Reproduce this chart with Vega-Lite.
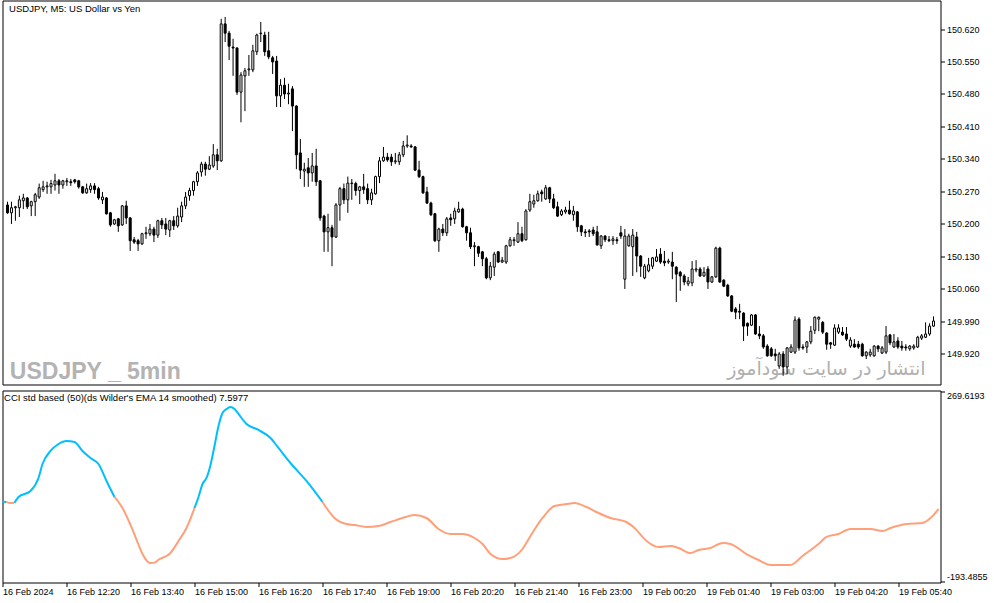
{
"$schema":"https://vega.github.io/schema/vega-lite/v6.json",
"padding":{"left":-2.5,"top":-0.5,"right":0,"bottom":0},
"spacing":4,
"background":"white",
"config":{"view":{"stroke":"black","strokeWidth":1},"axis":{"labelFont":"Liberation Sans","labelFontSize":9,"labelColor":"black","tickColor":"black","tickSize":4,"grid":false,"domain":false,"title":null,"labelOverlap":false}},
"datasets":{
"candles":[
{"k":0,"o":150.241,"h":150.248,"l":150.222,"c":150.224},
{"k":1,"o":150.224,"h":150.248,"l":150.200,"c":150.235},
{"k":2,"o":150.235,"h":150.239,"l":150.207,"c":150.237},
{"k":3,"o":150.235,"h":150.261,"l":150.215,"c":150.252},
{"k":4,"o":150.250,"h":150.265,"l":150.232,"c":150.256},
{"k":5,"o":150.256,"h":150.258,"l":150.232,"c":150.237},
{"k":6,"o":150.239,"h":150.250,"l":150.217,"c":150.248},
{"k":7,"o":150.248,"h":150.267,"l":150.217,"c":150.263},
{"k":8,"o":150.258,"h":150.287,"l":150.254,"c":150.278},
{"k":9,"o":150.274,"h":150.293,"l":150.269,"c":150.280},
{"k":10,"o":150.280,"h":150.291,"l":150.265,"c":150.282},
{"k":11,"o":150.280,"h":150.295,"l":150.265,"c":150.287},
{"k":12,"o":150.284,"h":150.308,"l":150.272,"c":150.293},
{"k":13,"o":150.293,"h":150.297,"l":150.265,"c":150.284},
{"k":14,"o":150.284,"h":150.295,"l":150.276,"c":150.293},
{"k":15,"o":150.291,"h":150.299,"l":150.282,"c":150.293},
{"k":16,"o":150.291,"h":150.297,"l":150.282,"c":150.289},
{"k":17,"o":150.295,"h":150.297,"l":150.287,"c":150.291},
{"k":18,"o":150.293,"h":150.295,"l":150.276,"c":150.280},
{"k":19,"o":150.280,"h":150.282,"l":150.265,"c":150.267},
{"k":20,"o":150.267,"h":150.287,"l":150.265,"c":150.276},
{"k":21,"o":150.274,"h":150.288,"l":150.267,"c":150.282},
{"k":22,"o":150.282,"h":150.288,"l":150.265,"c":150.274},
{"k":23,"o":150.276,"h":150.280,"l":150.252,"c":150.256},
{"k":24,"o":150.252,"h":150.269,"l":150.243,"c":150.258},
{"k":25,"o":150.256,"h":150.258,"l":150.220,"c":150.222},
{"k":26,"o":150.224,"h":150.226,"l":150.194,"c":150.198},
{"k":27,"o":150.200,"h":150.211,"l":150.198,"c":150.209},
{"k":28,"o":150.211,"h":150.213,"l":150.183,"c":150.196},
{"k":29,"o":150.198,"h":150.241,"l":150.196,"c":150.239},
{"k":30,"o":150.239,"h":150.250,"l":150.200,"c":150.213},
{"k":31,"o":150.213,"h":150.215,"l":150.142,"c":150.164},
{"k":32,"o":150.166,"h":150.172,"l":150.157,"c":150.161},
{"k":33,"o":150.164,"h":150.168,"l":150.142,"c":150.157},
{"k":34,"o":150.157,"h":150.181,"l":150.155,"c":150.179},
{"k":35,"o":150.179,"h":150.194,"l":150.168,"c":150.181},
{"k":36,"o":150.179,"h":150.200,"l":150.174,"c":150.189},
{"k":37,"o":150.189,"h":150.194,"l":150.161,"c":150.176},
{"k":38,"o":150.176,"h":150.209,"l":150.170,"c":150.207},
{"k":39,"o":150.207,"h":150.213,"l":150.189,"c":150.198},
{"k":40,"o":150.200,"h":150.213,"l":150.176,"c":150.189},
{"k":41,"o":150.187,"h":150.209,"l":150.172,"c":150.207},
{"k":42,"o":150.207,"h":150.217,"l":150.187,"c":150.196},
{"k":43,"o":150.196,"h":150.235,"l":150.192,"c":150.217},
{"k":44,"o":150.215,"h":150.248,"l":150.204,"c":150.239},
{"k":45,"o":150.239,"h":150.269,"l":150.232,"c":150.258},
{"k":46,"o":150.261,"h":150.278,"l":150.250,"c":150.272},
{"k":47,"o":150.272,"h":150.293,"l":150.261,"c":150.291},
{"k":48,"o":150.291,"h":150.314,"l":150.282,"c":150.310},
{"k":49,"o":150.312,"h":150.334,"l":150.302,"c":150.329},
{"k":50,"o":150.329,"h":150.334,"l":150.304,"c":150.318},
{"k":51,"o":150.318,"h":150.346,"l":150.316,"c":150.327},
{"k":52,"o":150.325,"h":150.372,"l":150.321,"c":150.349},
{"k":53,"o":150.349,"h":150.362,"l":150.316,"c":150.336},
{"k":54,"o":150.336,"h":150.642,"l":150.334,"c":150.631},
{"k":55,"o":150.631,"h":150.646,"l":150.592,"c":150.611},
{"k":56,"o":150.611,"h":150.616,"l":150.553,"c":150.583},
{"k":57,"o":150.581,"h":150.599,"l":150.519,"c":150.579},
{"k":58,"o":150.579,"h":150.581,"l":150.478,"c":150.484},
{"k":59,"o":150.484,"h":150.527,"l":150.419,"c":150.521},
{"k":60,"o":150.519,"h":150.536,"l":150.443,"c":150.530},
{"k":61,"o":150.532,"h":150.564,"l":150.519,"c":150.534},
{"k":62,"o":150.532,"h":150.586,"l":150.527,"c":150.573},
{"k":63,"o":150.571,"h":150.610,"l":150.564,"c":150.607},
{"k":64,"o":150.610,"h":150.635,"l":150.592,"c":150.611},
{"k":65,"o":150.607,"h":150.614,"l":150.562,"c":150.571},
{"k":66,"o":150.573,"h":150.614,"l":150.555,"c":150.560},
{"k":67,"o":150.558,"h":150.562,"l":150.523,"c":150.549},
{"k":68,"o":150.551,"h":150.562,"l":150.452,"c":150.476},
{"k":69,"o":150.476,"h":150.512,"l":150.452,"c":150.499},
{"k":70,"o":150.499,"h":150.515,"l":150.469,"c":150.480},
{"k":71,"o":150.480,"h":150.502,"l":150.458,"c":150.482},
{"k":72,"o":150.491,"h":150.497,"l":150.400,"c":150.454},
{"k":73,"o":150.454,"h":150.456,"l":150.318,"c":150.349},
{"k":74,"o":150.353,"h":150.383,"l":150.297,"c":150.316},
{"k":75,"o":150.314,"h":150.332,"l":150.280,"c":150.318},
{"k":76,"o":150.321,"h":150.342,"l":150.280,"c":150.310},
{"k":77,"o":150.310,"h":150.353,"l":150.291,"c":150.325},
{"k":78,"o":150.325,"h":150.362,"l":150.282,"c":150.291},
{"k":79,"o":150.293,"h":150.295,"l":150.207,"c":150.213},
{"k":80,"o":150.217,"h":150.220,"l":150.140,"c":150.183},
{"k":81,"o":150.183,"h":150.222,"l":150.140,"c":150.192},
{"k":82,"o":150.192,"h":150.198,"l":150.109,"c":150.172},
{"k":83,"o":150.172,"h":150.245,"l":150.170,"c":150.241},
{"k":84,"o":150.241,"h":150.280,"l":150.207,"c":150.276},
{"k":85,"o":150.276,"h":150.287,"l":150.243,"c":150.252},
{"k":86,"o":150.252,"h":150.302,"l":150.224,"c":150.288},
{"k":87,"o":150.287,"h":150.297,"l":150.252,"c":150.288},
{"k":88,"o":150.287,"h":150.291,"l":150.261,"c":150.272},
{"k":89,"o":150.272,"h":150.282,"l":150.243,"c":150.280},
{"k":90,"o":150.280,"h":150.308,"l":150.265,"c":150.274},
{"k":91,"o":150.276,"h":150.287,"l":150.243,"c":150.252},
{"k":92,"o":150.252,"h":150.276,"l":150.241,"c":150.267},
{"k":93,"o":150.265,"h":150.304,"l":150.263,"c":150.302},
{"k":94,"o":150.302,"h":150.344,"l":150.288,"c":150.336},
{"k":95,"o":150.336,"h":150.366,"l":150.334,"c":150.344},
{"k":96,"o":150.344,"h":150.353,"l":150.334,"c":150.338},
{"k":97,"o":150.344,"h":150.351,"l":150.325,"c":150.334},
{"k":98,"o":150.334,"h":150.353,"l":150.329,"c":150.336},
{"k":99,"o":150.334,"h":150.355,"l":150.327,"c":150.349},
{"k":100,"o":150.349,"h":150.379,"l":150.344,"c":150.368},
{"k":101,"o":150.368,"h":150.391,"l":150.364,"c":150.370},
{"k":102,"o":150.368,"h":150.372,"l":150.364,"c":150.366},
{"k":103,"o":150.366,"h":150.368,"l":150.314,"c":150.316},
{"k":104,"o":150.316,"h":150.336,"l":150.299,"c":150.302},
{"k":105,"o":150.302,"h":150.304,"l":150.265,"c":150.267},
{"k":106,"o":150.269,"h":150.280,"l":150.243,"c":150.245},
{"k":107,"o":150.245,"h":150.248,"l":150.217,"c":150.220},
{"k":108,"o":150.222,"h":150.224,"l":150.161,"c":150.164},
{"k":109,"o":150.164,"h":150.192,"l":150.140,"c":150.189},
{"k":110,"o":150.189,"h":150.200,"l":150.174,"c":150.181},
{"k":111,"o":150.181,"h":150.215,"l":150.174,"c":150.211},
{"k":112,"o":150.213,"h":150.222,"l":150.196,"c":150.209},
{"k":113,"o":150.211,"h":150.235,"l":150.200,"c":150.228},
{"k":114,"o":150.226,"h":150.248,"l":150.224,"c":150.232},
{"k":115,"o":150.232,"h":150.235,"l":150.192,"c":150.194},
{"k":116,"o":150.194,"h":150.196,"l":150.164,"c":150.181},
{"k":117,"o":150.181,"h":150.192,"l":150.146,"c":150.151},
{"k":118,"o":150.151,"h":150.161,"l":150.109,"c":150.153},
{"k":119,"o":150.151,"h":150.153,"l":150.129,"c":150.137},
{"k":120,"o":150.140,"h":150.142,"l":150.109,"c":150.125},
{"k":121,"o":150.125,"h":150.129,"l":150.081,"c":150.084},
{"k":122,"o":150.084,"h":150.118,"l":150.079,"c":150.109},
{"k":123,"o":150.107,"h":150.140,"l":150.088,"c":150.135},
{"k":124,"o":150.140,"h":150.142,"l":150.116,"c":150.118},
{"k":125,"o":150.118,"h":150.129,"l":150.116,"c":150.122},
{"k":126,"o":150.118,"h":150.155,"l":150.114,"c":150.153},
{"k":127,"o":150.153,"h":150.172,"l":150.151,"c":150.166},
{"k":128,"o":150.164,"h":150.172,"l":150.153,"c":150.166},
{"k":129,"o":150.161,"h":150.204,"l":150.159,"c":150.179},
{"k":130,"o":150.179,"h":150.194,"l":150.161,"c":150.164},
{"k":131,"o":150.166,"h":150.232,"l":150.164,"c":150.228},
{"k":132,"o":150.230,"h":150.265,"l":150.226,"c":150.248},
{"k":133,"o":150.243,"h":150.263,"l":150.235,"c":150.250},
{"k":134,"o":150.250,"h":150.272,"l":150.248,"c":150.265},
{"k":135,"o":150.269,"h":150.274,"l":150.248,"c":150.265},
{"k":136,"o":150.254,"h":150.284,"l":150.252,"c":150.278},
{"k":137,"o":150.278,"h":150.280,"l":150.245,"c":150.254},
{"k":138,"o":150.254,"h":150.265,"l":150.232,"c":150.235},
{"k":139,"o":150.237,"h":150.248,"l":150.215,"c":150.217},
{"k":140,"o":150.220,"h":150.232,"l":150.217,"c":150.228},
{"k":141,"o":150.226,"h":150.237,"l":150.222,"c":150.230},
{"k":142,"o":150.230,"h":150.250,"l":150.220,"c":150.222},
{"k":143,"o":150.220,"h":150.239,"l":150.207,"c":150.228},
{"k":144,"o":150.226,"h":150.228,"l":150.183,"c":150.194},
{"k":145,"o":150.196,"h":150.198,"l":150.174,"c":150.183},
{"k":146,"o":150.183,"h":150.189,"l":150.172,"c":150.181},
{"k":147,"o":150.185,"h":150.189,"l":150.172,"c":150.183},
{"k":148,"o":150.187,"h":150.194,"l":150.174,"c":150.179},
{"k":149,"o":150.183,"h":150.196,"l":150.153,"c":150.155},
{"k":150,"o":150.153,"h":150.176,"l":150.146,"c":150.174},
{"k":151,"o":150.174,"h":150.176,"l":150.161,"c":150.166},
{"k":152,"o":150.166,"h":150.174,"l":150.161,"c":150.164},
{"k":153,"o":150.164,"h":150.174,"l":150.155,"c":150.168},
{"k":154,"o":150.166,"h":150.172,"l":150.157,"c":150.164},
{"k":155,"o":150.181,"h":150.196,"l":150.168,"c":150.174},
{"k":156,"o":150.081,"h":150.189,"l":150.060,"c":150.174},
{"k":157,"o":150.153,"h":150.179,"l":150.151,"c":150.174},
{"k":158,"o":150.151,"h":150.189,"l":150.088,"c":150.176},
{"k":159,"o":150.172,"h":150.183,"l":150.096,"c":150.131},
{"k":160,"o":150.131,"h":150.133,"l":150.086,"c":150.109},
{"k":161,"o":150.084,"h":150.114,"l":150.081,"c":150.109},
{"k":162,"o":150.099,"h":150.127,"l":150.096,"c":150.112},
{"k":163,"o":150.109,"h":150.129,"l":150.103,"c":150.127},
{"k":164,"o":150.120,"h":150.146,"l":150.118,"c":150.129},
{"k":165,"o":150.135,"h":150.148,"l":150.114,"c":150.118},
{"k":166,"o":150.120,"h":150.142,"l":150.109,"c":150.116},
{"k":167,"o":150.118,"h":150.125,"l":150.114,"c":150.120},
{"k":168,"o":150.118,"h":150.140,"l":150.081,"c":150.109},
{"k":169,"o":150.107,"h":150.109,"l":150.032,"c":150.092},
{"k":170,"o":150.096,"h":150.099,"l":150.056,"c":150.088},
{"k":171,"o":150.088,"h":150.092,"l":150.068,"c":150.075},
{"k":172,"o":150.071,"h":150.086,"l":150.066,"c":150.077},
{"k":173,"o":150.073,"h":150.120,"l":150.066,"c":150.103},
{"k":174,"o":150.101,"h":150.122,"l":150.096,"c":150.103},
{"k":175,"o":150.103,"h":150.107,"l":150.086,"c":150.088},
{"k":176,"o":150.088,"h":150.107,"l":150.086,"c":150.096},
{"k":177,"o":150.103,"h":150.109,"l":150.060,"c":150.075},
{"k":178,"o":150.075,"h":150.088,"l":150.073,"c":150.086},
{"k":179,"o":150.086,"h":150.151,"l":150.084,"c":150.148},
{"k":180,"o":150.148,"h":150.151,"l":150.073,"c":150.075},
{"k":181,"o":150.079,"h":150.081,"l":150.064,"c":150.066},
{"k":182,"o":150.068,"h":150.071,"l":150.043,"c":150.045},
{"k":183,"o":150.045,"h":150.047,"l":150.010,"c":150.012},
{"k":184,"o":150.017,"h":150.021,"l":149.995,"c":150.010},
{"k":185,"o":150.012,"h":150.028,"l":149.995,"c":150.010},
{"k":186,"o":150.008,"h":150.010,"l":149.948,"c":149.980},
{"k":187,"o":149.986,"h":149.988,"l":149.959,"c":149.980},
{"k":188,"o":149.982,"h":150.006,"l":149.980,"c":150.004},
{"k":189,"o":150.004,"h":150.006,"l":149.961,"c":149.963},
{"k":190,"o":149.963,"h":149.980,"l":149.952,"c":149.959},
{"k":191,"o":149.959,"h":149.963,"l":149.931,"c":149.935},
{"k":192,"o":149.937,"h":149.941,"l":149.914,"c":149.916},
{"k":193,"o":149.931,"h":149.935,"l":149.914,"c":149.916},
{"k":194,"o":149.920,"h":149.931,"l":149.905,"c":149.916},
{"k":195,"o":149.894,"h":149.924,"l":149.888,"c":149.920},
{"k":196,"o":149.920,"h":149.926,"l":149.873,"c":149.892},
{"k":197,"o":149.892,"h":149.935,"l":149.877,"c":149.933},
{"k":198,"o":149.924,"h":149.941,"l":149.922,"c":149.935},
{"k":199,"o":149.924,"h":150.001,"l":149.920,"c":149.993},
{"k":200,"o":149.995,"h":149.999,"l":149.927,"c":149.933},
{"k":201,"o":149.935,"h":149.941,"l":149.929,"c":149.933},
{"k":202,"o":149.935,"h":149.948,"l":149.922,"c":149.946},
{"k":203,"o":149.946,"h":149.980,"l":149.941,"c":149.969},
{"k":204,"o":149.971,"h":150.001,"l":149.963,"c":149.999},
{"k":205,"o":149.995,"h":150.001,"l":149.969,"c":149.999},
{"k":206,"o":149.988,"h":149.991,"l":149.963,"c":149.967},
{"k":207,"o":149.965,"h":149.967,"l":149.929,"c":149.941},
{"k":208,"o":149.944,"h":149.946,"l":149.931,"c":149.941},
{"k":209,"o":149.939,"h":149.984,"l":149.937,"c":149.976},
{"k":210,"o":149.967,"h":149.984,"l":149.963,"c":149.976},
{"k":211,"o":149.967,"h":149.978,"l":149.959,"c":149.961},
{"k":212,"o":149.963,"h":149.978,"l":149.948,"c":149.952},
{"k":213,"o":149.937,"h":149.956,"l":149.933,"c":149.950},
{"k":214,"o":149.941,"h":149.952,"l":149.933,"c":149.935},
{"k":215,"o":149.941,"h":149.948,"l":149.931,"c":149.935},
{"k":216,"o":149.941,"h":149.944,"l":149.914,"c":149.916},
{"k":217,"o":149.916,"h":149.926,"l":149.909,"c":149.924},
{"k":218,"o":149.918,"h":149.931,"l":149.914,"c":149.924},
{"k":219,"o":149.916,"h":149.939,"l":149.914,"c":149.937},
{"k":220,"o":149.937,"h":149.939,"l":149.924,"c":149.931},
{"k":221,"o":149.922,"h":149.937,"l":149.920,"c":149.933},
{"k":222,"o":149.924,"h":149.980,"l":149.920,"c":149.959},
{"k":223,"o":149.961,"h":149.963,"l":149.939,"c":149.944},
{"k":224,"o":149.935,"h":149.963,"l":149.933,"c":149.946},
{"k":225,"o":149.948,"h":149.956,"l":149.931,"c":149.935},
{"k":226,"o":149.937,"h":149.948,"l":149.927,"c":149.933},
{"k":227,"o":149.935,"h":149.941,"l":149.927,"c":149.933},
{"k":228,"o":149.931,"h":149.939,"l":149.927,"c":149.937},
{"k":229,"o":149.933,"h":149.941,"l":149.929,"c":149.937},
{"k":230,"o":149.935,"h":149.959,"l":149.933,"c":149.956},
{"k":231,"o":149.954,"h":149.963,"l":149.950,"c":149.959},
{"k":232,"o":149.956,"h":149.988,"l":149.954,"c":149.963},
{"k":233,"o":149.963,"h":149.986,"l":149.959,"c":149.980},
{"k":234,"o":149.980,"h":150.001,"l":149.978,"c":149.991}
],
"cci":[
{"k":0,"v":1.5,"s":1,"d":"up"},{"k":1,"v":0.5,"s":1,"d":"up"},
{"k":1,"v":0.5,"s":2,"d":"down"},{"k":2,"v":-1.7,"s":2,"d":"down"},{"k":3,"v":-1.0,"s":2,"d":"down"},
{"k":3,"v":-1.0,"s":3,"d":"up"},{"k":4,"v":13.0,"s":3,"d":"up"},{"k":7,"v":27.6,"s":3,"d":"up"},{"k":9,"v":59.3,"s":3,"d":"up"},{"k":10,"v":93.4,"s":3,"d":"up"},{"k":12,"v":125.1,"s":3,"d":"up"},{"k":14,"v":142.1,"s":3,"d":"up"},{"k":16,"v":149.5,"s":3,"d":"up"},{"k":18,"v":147.0,"s":3,"d":"up"},{"k":20,"v":125.1,"s":3,"d":"up"},{"k":22,"v":108.0,"s":3,"d":"up"},{"k":24,"v":93.4,"s":3,"d":"up"},{"k":26,"v":52.0,"s":3,"d":"up"},{"k":28,"v":13.0,"s":3,"d":"up"},
{"k":28,"v":13.0,"s":4,"d":"down"},{"k":30,"v":-13.9,"s":4,"d":"down"},{"k":32,"v":-55.0,"s":4,"d":"down"},{"k":34,"v":-103.0,"s":4,"d":"down"},{"k":35,"v":-126.0,"s":4,"d":"down"},{"k":37,"v":-148.0,"s":4,"d":"down"},{"k":38,"v":-147.0,"s":4,"d":"down"},{"k":39,"v":-140.0,"s":4,"d":"down"},{"k":42,"v":-123.5,"s":4,"d":"down"},{"k":44,"v":-94.3,"s":4,"d":"down"},{"k":46,"v":-62.6,"s":4,"d":"down"},{"k":48,"v":-13.9,"s":4,"d":"down"},
{"k":48,"v":-13.9,"s":5,"d":"up"},{"k":49,"v":13.0,"s":5,"d":"up"},{"k":50,"v":44.6,"s":5,"d":"up"},{"k":51,"v":59.3,"s":5,"d":"up"},{"k":52,"v":91.0,"s":5,"d":"up"},{"k":53,"v":137.3,"s":5,"d":"up"},{"k":54,"v":186.0,"s":5,"d":"up"},{"k":55,"v":217.7,"s":5,"d":"up"},{"k":56,"v":227.5,"s":5,"d":"up"},{"k":57,"v":232.3,"s":5,"d":"up"},{"k":58,"v":227.5,"s":5,"d":"up"},{"k":59,"v":215.3,"s":5,"d":"up"},{"k":61,"v":190.9,"s":5,"d":"up"},{"k":64,"v":176.3,"s":5,"d":"up"},{"k":67,"v":156.8,"s":5,"d":"up"},{"k":69,"v":132.4,"s":5,"d":"up"},{"k":72,"v":95.8,"s":5,"d":"up"},{"k":76,"v":52.0,"s":5,"d":"up"},{"k":80,"v":0.8,"s":5,"d":"up"},
{"k":80,"v":0.8,"s":6,"d":"down"},{"k":81,"v":-13.9,"s":6,"d":"down"},{"k":83,"v":-38.2,"s":6,"d":"down"},{"k":86,"v":-52.9,"s":6,"d":"down"},{"k":88,"v":-55.3,"s":6,"d":"down"},{"k":91,"v":-60.2,"s":6,"d":"down"},{"k":94,"v":-57.7,"s":6,"d":"down"},{"k":97,"v":-48.0,"s":6,"d":"down"},{"k":100,"v":-38.2,"s":6,"d":"down"},{"k":103,"v":-30.9,"s":6,"d":"down"},{"k":106,"v":-38.2,"s":6,"d":"down"},{"k":109,"v":-65.0,"s":6,"d":"down"},{"k":112,"v":-77.2,"s":6,"d":"down"},{"k":115,"v":-77.2,"s":6,"d":"down"},{"k":118,"v":-87.0,"s":6,"d":"down"},{"k":120,"v":-101.6,"s":6,"d":"down"},{"k":122,"v":-126.0,"s":6,"d":"down"},{"k":125,"v":-138.2,"s":6,"d":"down"},{"k":127,"v":-135.7,"s":6,"d":"down"},{"k":130,"v":-113.8,"s":6,"d":"down"},{"k":132,"v":-82.1,"s":6,"d":"down"},{"k":135,"v":-38.2,"s":6,"d":"down"},{"k":138,"v":-9.0,"s":6,"d":"down"},{"k":141,"v":-4.1,"s":6,"d":"down"},{"k":143,"v":-1.7,"s":6,"d":"down"},{"k":146,"v":-11.4,"s":6,"d":"down"},{"k":149,"v":-26.0,"s":6,"d":"down"},{"k":152,"v":-38.2,"s":6,"d":"down"},{"k":156,"v":-48.0,"s":6,"d":"down"},{"k":158,"v":-62.6,"s":6,"d":"down"},{"k":161,"v":-94.3,"s":6,"d":"down"},{"k":164,"v":-108.9,"s":6,"d":"down"},{"k":167,"v":-106.5,"s":6,"d":"down"},{"k":169,"v":-111.3,"s":6,"d":"down"},{"k":172,"v":-123.5,"s":6,"d":"down"},{"k":174,"v":-116.2,"s":6,"d":"down"},{"k":177,"v":-111.3,"s":6,"d":"down"},{"k":180,"v":-99.2,"s":6,"d":"down"},{"k":182,"v":-101.6,"s":6,"d":"down"},{"k":186,"v":-126.0,"s":6,"d":"down"},{"k":189,"v":-140.6,"s":6,"d":"down"},{"k":192,"v":-152.8,"s":6,"d":"down"},{"k":197,"v":-152.8,"s":6,"d":"down"},{"k":200,"v":-130.8,"s":6,"d":"down"},{"k":204,"v":-101.6,"s":6,"d":"down"},{"k":206,"v":-84.5,"s":6,"d":"down"},{"k":209,"v":-77.2,"s":6,"d":"down"},{"k":212,"v":-65.0,"s":6,"d":"down"},{"k":217,"v":-65.0,"s":6,"d":"down"},{"k":220,"v":-69.9,"s":6,"d":"down"},{"k":222,"v":-62.6,"s":6,"d":"down"},{"k":226,"v":-52.9,"s":6,"d":"down"},{"k":230,"v":-50.4,"s":6,"d":"down"},{"k":232,"v":-38.2,"s":6,"d":"down"},{"k":234,"v":-16.3,"s":6,"d":"down"}
]
},
"vconcat":[
{
"width":938,"height":384,
"layer":[
{"data":{"values":[{}]},
"mark":{"type":"text","align":"left","baseline":"alphabetic","font":"Liberation Sans","fontWeight":"bold","fontSize":23,"color":"#B3B3B3"},
"encoding":{"x":{"datum":0.6,"type":"quantitative","scale":{"domain":[0,234.5],"nice":false,"zero":false},"axis":null},
"y":{"datum":149.866,"type":"quantitative","scale":{"domain":[149.8542,150.6814],"nice":false,"zero":false},
"axis":{"orient":"right","values":[149.92,149.99,150.06,150.13,150.2,150.27,150.34,150.41,150.48,150.55,150.62],"tickCount":30,"format":".3f","labelPadding":2,"labelOverlap":false}},
"text":{"value":"USDJPY _ 5min"}}},
{"data":{"values":[{}]},
"mark":{"type":"text","align":"right","baseline":"alphabetic","font":"DejaVu Sans","fontSize":19,"color":"#B0B0B0"},
"encoding":{"x":{"datum":232,"type":"quantitative"},"y":{"datum":149.875,"type":"quantitative"},"text":{"value":"انتشار در سایت سودآموز"}}},
{"data":{"values":[{}]},
"mark":{"type":"text","align":"left","baseline":"middle","font":"Liberation Sans","fontSize":9.5,"color":"black"},
"encoding":{"x":{"datum":0.4,"type":"quantitative"},"y":{"datum":150.663,"type":"quantitative"},"text":{"value":"USDJPY, M5:  US Dollar vs Yen"}}},
{"data":{"name":"candles"},
"mark":{"type":"rule","color":"black","strokeWidth":1},
"encoding":{
"x":{"field":"k","type":"quantitative"},
"y":{"field":"l","type":"quantitative"},
"y2":{"field":"h"}}},
{"data":{"name":"candles"},
"mark":{"type":"bar","width":2,"stroke":"black","strokeWidth":1},
"encoding":{
"x":{"field":"k","type":"quantitative"},
"y":{"field":"o","type":"quantitative"},
"y2":{"field":"c"},
"fill":{"condition":{"test":"datum.c >= datum.o","value":"white"},"value":"black"}}}
]
},
{
"width":938,"height":192,
"layer":[
{"data":{"name":"cci"},
"mark":{"type":"line","strokeWidth":2,"interpolate":"monotone"},
"encoding":{
"x":{"field":"k","type":"quantitative","scale":{"domain":[0,234.5],"nice":false,"zero":false},
"axis":{"orient":"bottom","values":[0,16,32,48,64,80,96,112,128,144,160,176,192,208,224],"tickCount":30,"labelAlign":"left","labelFlush":false,"labelPadding":1,
"labelExpr":"['16 Feb 2024','16 Feb 12:20','16 Feb 13:40','16 Feb 15:00','16 Feb 16:20','16 Feb 17:40','16 Feb 19:00','16 Feb 20:20','16 Feb 21:40','16 Feb 23:00','19 Feb 00:20','19 Feb 01:40','19 Feb 03:00','19 Feb 04:20','19 Feb 05:40'][round(datum.value/16)]"}},
"y":{"field":"v","type":"quantitative","scale":{"domain":[-195.44,272.5],"nice":false,"zero":false},
"axis":{"orient":"right","values":[-193.4855,269.6193],"labelFlush":5,"labelPadding":2,"labelExpr":"datum.value > 0 ? '269.6193' : '-193.4855'"}},
"color":{"field":"d","type":"nominal","scale":{"domain":["up","down"],"range":["#00BFFF","#FFA07A"]},"legend":null},
"detail":{"field":"s"}}},
{"data":{"values":[{}]},
"mark":{"type":"text","align":"left","baseline":"middle","font":"Liberation Sans","fontSize":9.5,"color":"black"},
"encoding":{"x":{"datum":0.4,"type":"quantitative"},"y":{"datum":254.3,"type":"quantitative"},"text":{"value":"CCI std based (50)(ds Wilder's EMA 14 smoothed) 7.5977"}}}
]
}
]
}
